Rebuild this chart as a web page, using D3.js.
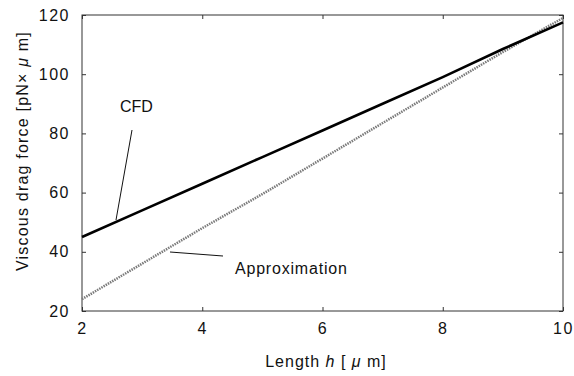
<!DOCTYPE html>
<html>
<head>
<meta charset="utf-8">
<script src="https://cdn.jsdelivr.net/npm/d3@7"></script>
<style>
  body { margin: 0; background: #fff; }
  svg text { font-family: "Liberation Sans", Arial, sans-serif; fill: #111; }
</style>
</head>
<body>
<div class="chart"></div>
<script>
const lengths = [2, 3, 4, 5, 6, 7, 8, 9, 10]
const cfd = [45, 54, 63, 72, 81, 90, 99, 108.5, 117.5]
const approx = [24, 36, 48, 59.5, 71.5, 83.5, 95.5, 107.5, 119]
const xTicks = [2, 4, 6, 8, 10]
const yTicks = [20, 40, 60, 80, 100, 120]

const W = 574
const H = 376
const margin = {top: 15, right: 11, bottom: 65, left: 82}
const width = W - margin.left - margin.right
const height = H - margin.top - margin.bottom

const svg = d3.select('.chart').append('svg')
  .attr('width', W)
  .attr('height', H)

const g = svg.append('g')
  .attr('transform', `translate(${margin.left},${margin.top})`)

const x = d3.scaleLinear().domain([2, 10]).range([0, width])
const y = d3.scaleLinear().domain([20, 120]).range([height, 0])

// frame
g.append('rect')
  .attr('width', width).attr('height', height)
  .attr('fill', 'none').attr('stroke', '#333').attr('stroke-width', 1)

const axisStyle = sel => {
  sel.select('.domain').remove()
  sel.selectAll('line').attr('stroke', '#333')
  sel.selectAll('text').attr('font-size', 16).attr('letter-spacing', 1.5)
}

g.append('g').attr('transform', `translate(0,${height})`)
  .call(d3.axisBottom(x).tickValues(xTicks).tickSize(-4).tickPadding(12))
  .call(axisStyle)
g.append('g')
  .call(d3.axisTop(x).tickValues(xTicks).tickSize(-4).tickFormat(''))
  .call(axisStyle)
g.append('g')
  .call(d3.axisLeft(y).tickValues(yTicks).tickSize(-4).tickPadding(12))
  .call(axisStyle)
g.append('g').attr('transform', `translate(${width},0)`)
  .call(d3.axisRight(y).tickValues(yTicks).tickSize(-4).tickFormat(''))
  .call(axisStyle)

const line = vals => d3.line()
  .x((d, i) => x(lengths[i]))
  .y(d => y(d))(vals)

g.append('path')
  .attr('d', line(approx))
  .attr('fill', 'none')
  .attr('stroke', '#7a7a7a')
  .attr('stroke-width', 2.5)
  .attr('stroke-dasharray', '1.5,1')

g.append('path')
  .attr('d', line(cfd))
  .attr('fill', 'none')
  .attr('stroke', '#000')
  .attr('stroke-width', 2.6)

// annotations
const ann = svg.append('g')
ann.append('text').attr('x', 120).attr('y', 112).attr('font-size', 16).text('CFD')
ann.append('line').attr('x1', 132).attr('y1', 130).attr('x2', 116).attr('y2', 220)
  .attr('stroke', '#111').attr('stroke-width', 1)
ann.append('text').attr('x', 235).attr('y', 274).attr('font-size', 16)
  .attr('letter-spacing', 0.8).text('Approximation')
ann.append('line').attr('x1', 170).attr('y1', 252).attr('x2', 223).attr('y2', 256)
  .attr('stroke', '#111').attr('stroke-width', 1)

// axis titles
svg.append('text')
  .attr('x', 326).attr('y', 367)
  .attr('text-anchor', 'middle').attr('font-size', 16).attr('letter-spacing', 1)
  .html('Length <tspan font-style="italic">h</tspan> [ <tspan font-style="italic">μ</tspan> m]')

svg.append('text')
  .attr('transform', 'translate(28,151) rotate(-90)')
  .attr('text-anchor', 'middle').attr('font-size', 16).attr('letter-spacing', 1.2)
  .html('Viscous drag force [pN× <tspan font-style="italic">μ</tspan> m]')
</script>
</body>
</html>
